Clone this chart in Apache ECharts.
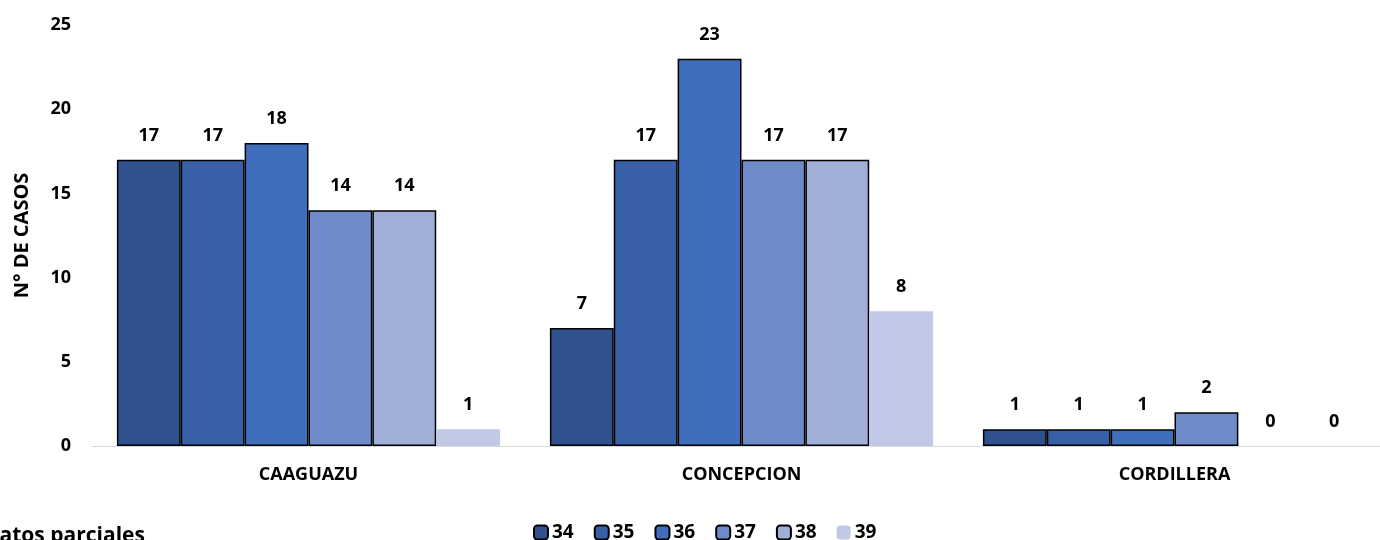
<!DOCTYPE html>
<html><head><meta charset="utf-8">
<script src="https://cdn.jsdelivr.net/npm/echarts@6/dist/echarts.min.js"></script>
<style>html,body{margin:0;padding:0;background:#fff}#c{width:1380px;height:540px}</style>
</head><body><div id="c"></div>
<script>
const categories = ['CAAGUAZU', 'CONCEPCION', 'CORDILLERA'];
const seriesNames = ['34', '35', '36', '37', '38', '39'];
const s34 = [17, 7, 1];
const s35 = [17, 17, 1];
const s36 = [18, 23, 1];
const s37 = [14, 17, 2];
const s38 = [14, 17, 0];
const s39 = [1, 8, 0];
const values = [s34, s35, s36, s37, s38, s39];
const colors = ['#2F528F', '#3860A7', '#416EBC', '#6E8AC9', '#A0AED8', '#C0CAE6'];
const yTicks = [0, 5, 10, 15, 20, 25];

const FONT = '"Open Sans", sans-serif';
const chart = echarts.init(document.getElementById('c'));
chart.setOption({
  animation: false,
  grid: { left: 92, width: 1299, top: 25, bottom: 94, containLabel: false, outerBoundsMode: 'none' },
  legend: {
    bottom: -7, left: 528, itemWidth: 14, itemHeight: 14, itemGap: 20,
    data: seriesNames,
    textStyle: { fontFamily: FONT, fontWeight: 'bold', fontSize: 19, color: '#000', padding: [0, 0, 0, -1] }
  },
  xAxis: {
    type: 'category', data: categories,
    axisLine: { lineStyle: { color: '#D9D9D9', width: 1 } },
    axisTick: { show: false },
    axisLabel: { fontFamily: FONT, fontWeight: 'bold', fontSize: 18, color: '#000', margin: 20 }
  },
  yAxis: {
    type: 'value', min: 0, max: 25, interval: 5,
    name: 'N° DE CASOS', nameLocation: 'middle', nameGap: 60,
    nameTextStyle: { fontFamily: FONT, fontWeight: 'bold', fontSize: 20, color: '#000' },
    axisLine: { show: false }, axisTick: { show: false }, splitLine: { show: false },
    axisLabel: { fontFamily: FONT, fontWeight: 'bold', fontSize: 18, color: '#000', margin: 21,
      formatter: v => yTicks.includes(v) ? String(v) : '' }
  },
  graphic: [{
    type: 'text', left: -16, top: 526,
    style: { text: 'Datos parciales', fontFamily: FONT, fontWeight: 'bold', fontSize: 21, fill: '#000' }
  }],
  series: seriesNames.map((n, i) => ({
    name: n, type: 'bar',
    data: values[i].map(v => v === 0 ? { value: v, itemStyle: { borderWidth: 0, opacity: 0 } } : v),
    barGap: '0%', barCategoryGap: '11.5%',
    itemStyle: { color: colors[i], borderColor: i === 5 ? colors[i] : '#000', borderWidth: i === 5 ? 0 : 1.5 },
    label: { show: true, position: 'top', distance: 15, fontFamily: FONT, fontWeight: 'bold', fontSize: 18, color: '#000', opacity: 1 }
  }))
});
</script></body></html>
